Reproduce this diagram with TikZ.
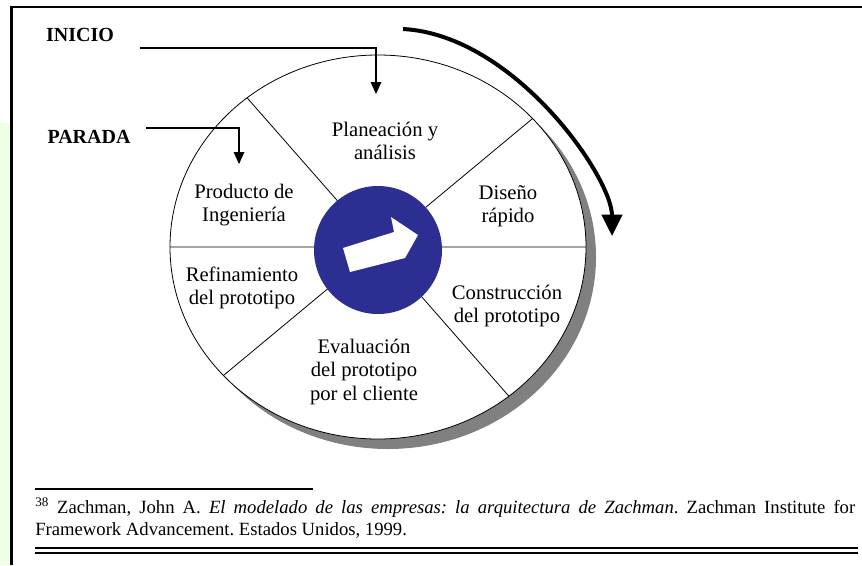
\documentclass[tikz,border=0pt]{standalone}
\usepackage{fontspec}
\setmainfont{Liberation Serif}
\usetikzlibrary{arrows.meta}
\definecolor{wheelblue}{RGB}{44,46,146}
\definecolor{shadowgray}{RGB}{128,128,128}
\definecolor{stripgreen}{RGB}{238,255,228}
\frenchspacing
\tikzset{
  phase/.style={align=center,inner sep=0pt,font=\fontsize{15.5}{17.5}\selectfont},
  tag/.style={inner sep=0pt,font=\fontsize{15}{17}\selectfont\bfseries},
  conn/.style={line width=.8pt,-{Triangle[length=9pt,width=8pt]}},
  cycle arrow/.style={line width=3pt,-{Triangle[length=16pt,width=15pt]}}
}
\begin{document}
\begin{tikzpicture}[x=.75pt,y=-.75pt]
\useasboundingbox (0,0) rectangle (862,565);
% page edge
\fill[stripgreen] (0,123) rectangle (10,565);
\draw[line width=2.2pt] (11.5,565)--(11.5,7)--(862,7);
% wheel with shadow
\fill[shadowgray] (388,257) ellipse [x radius=156pt,y radius=144pt];
\draw[fill=white,line width=.6pt] (378,247) ellipse [x radius=156pt,y radius=144pt];
\coordinate (rimW) at (170,247);
\coordinate (rimE) at (586,247);
\coordinate (rimNE) at (532.6,118.5);
\coordinate (rimNW) at (247.1,97.8);
\coordinate (rimSW) at (223.4,375.5);
\coordinate (rimSE) at (508.9,396.2);
\draw[line width=.6pt] (rimW)--(rimE) (rimNE)--(rimSW) (rimNW)--(rimSE);
\fill[wheelblue] (378,250) circle [radius=48pt];
\fill[white] (343,248)--(394,232)--(391,217)--(418,235)--(405,258)--(350,272)--cycle;
% phases
\node[phase] (plan) at (385,141) {Planeación y\\análisis};
\node[phase] (design) at (508,206) {Diseño\\rápido};
\node[phase] (build) at (507,306) {Construcción\\del prototipo};
\node[phase] (eval) at (364,372) {Evaluación\\del prototipo\\por el cliente};
\node[phase] (refine) at (242,288) {Refinamiento\\del prototipo};
\node[phase] (product) at (244,205) {Producto de\\Ingeniería};
% start and stop
\node[tag] (inicio) at (80,34.5) {INICIO};
\node[tag] (parada) at (89,136.5) {PARADA};
\coordinate (iniA) at (140,48);
\coordinate (iniB) at (376,94);
\coordinate (parA) at (146,128);
\coordinate (parB) at (239,164);
\draw[conn] (iniA) -| (iniB);
\draw[conn] (parA) -| (parB);
\coordinate (cycA) at (403,29);
\coordinate (cycB) at (612,236);
\draw[cycle arrow] (cycA) .. controls (514,35) and (612,177) .. (cycB);
% footnote
\draw[line width=.9pt] (35,489)--(313,489);
\node[anchor=base west,inner sep=0pt,text width=615pt,align=justify,font=\fontsize{14}{16.5}\selectfont] (note) at (35,513)
{\textsuperscript{38} Zachman, John A. \textit{El modelado de las empresas: la arquitectura de Zachman}. Zachman Institute for\linebreak Framework Advancement. Estados Unidos, 1999.};
\draw[line width=1.2pt] (35,548)--(858,548) (35,553)--(858,553);
\end{tikzpicture}
\end{document}
